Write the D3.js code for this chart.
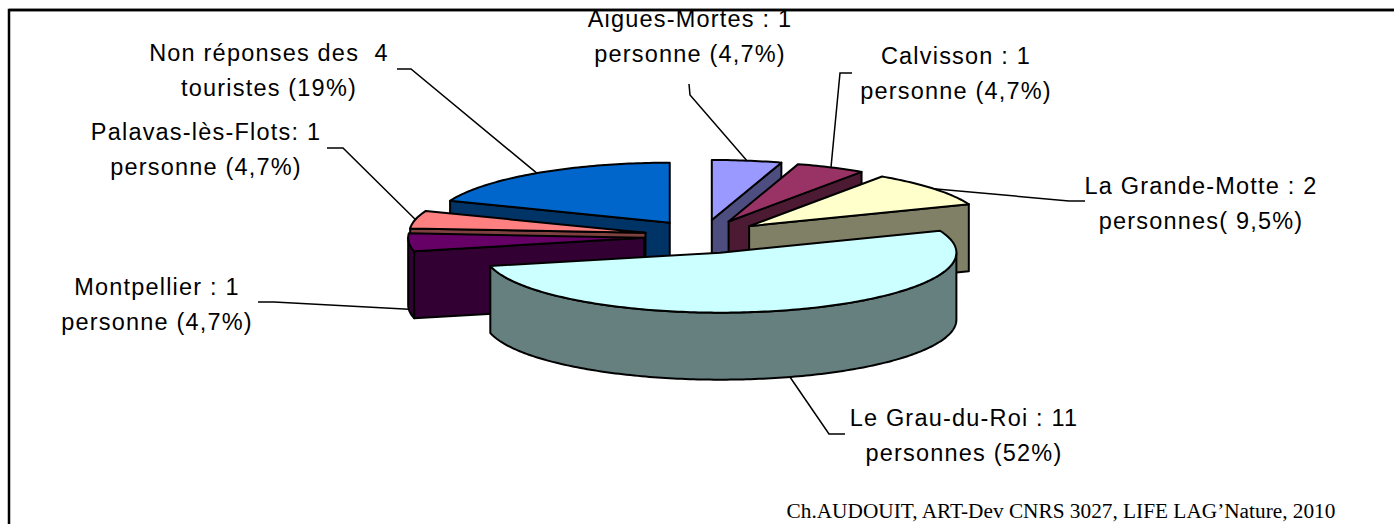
<!DOCTYPE html>
<html>
<head>
<meta charset="utf-8">
<script src="https://cdn.jsdelivr.net/npm/d3@7"></script>
<style>
  html, body { margin: 0; padding: 0; background: #fff; overflow: hidden; }
  svg { display: block; }
</style>
</head>
<body>
<svg id="chart" width="1394" height="524"></svg>
<script>
// Lieu de séjour des touristes interrogés (nombre de personnes)
const communes = ["Aigues-Mortes", "Calvisson", "La Grande-Motte", "Le Grau-du-Roi",
                  "Montpellier", "Palavas-lès-Flots", "Non réponses"];
const personnes = [1, 1, 2, 11, 1, 1, 4];
const labelLines = [
  ["Aigues-Mortes : 1", "personne (4,7%)"],
  ["Calvisson : 1", "personne (4,7%)"],
  ["La Grande-Motte : 2", "personnes( 9,5%)"],
  ["Le Grau-du-Roi : 11", "personnes (52%)"],
  ["Montpellier : 1", "personne (4,7%)"],
  ["Palavas-lès-Flots: 1", "personne (4,7%)"],
  ["Non réponses des  4", "touristes (19%)"]
];
const topColors  = ["#9999FF", "#993366", "#FFFFCC", "#CCFFFF", "#660066", "#FF8080", "#0066CC"];
const sideColors = ["#4D4D80", "#4D1A33", "#808066", "#668080", "#330033", "#804040", "#003366"];
const source = "Ch.AUDOUIT, ART-Dev CNRS 3027, LIFE LAG\u2019Nature, 2010";

// Label placement: centre x, first baseline, and leader elbow points
const labelLayout = [
  { x: 690,  y: 27,  leader: [[689, 84], [690, 95]] },
  { x: 956,  y: 64,  leader: [[852, 73], [840, 73]] },
  { x: 1201, y: 194, leader: [[1085, 201], [1069, 201]] },
  { x: 964,  y: 426, leader: [[845, 434], [829, 434]] },
  { x: 157,  y: 295, leader: [[258, 302], [274, 302]] },
  { x: 206,  y: 140, leader: [[327, 148], [343, 148]] },
  { x: 269,  y: 61,  leader: [[397, 69], [411, 69]] }
];

// 3-D pie geometry (screen units)
const geo = { cx: 703, cy: 236.6, rx: 236, ry: 60, h: 67, explodeX: 0.25, explodeY: 0.28 };

const svg = d3.select("#chart");

// frame
svg.append("path")
  .attr("d", "M9,524 V10 H1394")
  .attr("fill", "none").attr("stroke", "#000").attr("stroke-width", 2.5);

const pie = d3.pie().sort(null).value(d => d).startAngle(0).endAngle(2 * Math.PI);
const arcs = pie(personnes).map((a, i) => ({ ...a, i, mid: (a.startAngle + a.endAngle) / 2 }));

// projected point of a slice: angle theta, radius fraction r, vertical drop z
function pt(s, theta, r, z) {
  const X = geo.explodeX * Math.sin(s.mid) + r * Math.sin(theta);
  const D = geo.explodeY * Math.cos(s.mid) + r * Math.cos(theta);
  return [geo.cx + geo.rx * X, geo.cy - geo.ry * D + z];
}
function arcPts(s, a0, a1, z) {
  const n = Math.max(2, Math.ceil(Math.abs(a1 - a0) / (Math.PI / 180)));
  return d3.range(n + 1).map(k => pt(s, a0 + (a1 - a0) * k / n, 1, z));
}
const line = d3.line();
const closed = p => line(p) + "Z";

// back slices first
const order = arcs.slice().sort((a, b) => Math.cos(b.mid) - Math.cos(a.mid));
const g = svg.append("g")
  .attr("stroke", "#000").attr("stroke-width", 2).attr("stroke-linejoin", "round");

order.forEach(s => {
  const a = s.startAngle, b = s.endAngle, H = geo.h;
  const faces = [];
  // radial side at the start edge
  if (Math.cos(a - Math.PI / 2) < -0.01) {
    faces.push([pt(s, 0, 0, 0), pt(s, a, 1, 0), pt(s, a, 1, H), pt(s, 0, 0, H)]);
  }
  // radial side at the end edge
  if (Math.cos(b + Math.PI / 2) < -0.01) {
    faces.push([pt(s, 0, 0, 0), pt(s, b, 1, 0), pt(s, b, 1, H), pt(s, 0, 0, H)]);
  }
  // curved outer side, front half only
  const f0 = Math.max(a, Math.PI / 2), f1 = Math.min(b, 3 * Math.PI / 2);
  if (f1 > f0) {
    faces.push(arcPts(s, f0, f1, 0).concat(arcPts(s, f1, f0, H)));
  }
  faces.forEach(f => g.append("path").attr("d", closed(f)).attr("fill", sideColors[s.i]));
  // top face
  const top = [pt(s, 0, 0, 0)].concat(arcPts(s, a, b, 0));
  g.append("path").attr("d", closed(top)).attr("fill", topColors[s.i]);
});

// labels and leader lines
const labels = svg.append("g")
  .attr("font-family", "'Liberation Sans', Arial, sans-serif")
  .attr("font-size", 23.5).attr("letter-spacing", 1.2).attr("fill", "#000");

arcs.forEach(s => {
  const L = labelLayout[s.i];
  const anchor = pt(s, s.mid, 1, Math.cos(s.mid) < 0 ? geo.h : 0);
  svg.append("path")
    .attr("d", line(L.leader.concat([anchor])))
    .attr("fill", "none").attr("stroke", "#000").attr("stroke-width", 1.5);
  labelLines[s.i].forEach((t, k) => {
    labels.append("text")
      .attr("x", L.x).attr("y", L.y + k * 34.5)
      .attr("text-anchor", "middle")
      .style("white-space", "pre")
      .text(t);
  });
});

// frame line passes over the top label
svg.append("path")
  .attr("d", "M9,10 H1394")
  .attr("fill", "none").attr("stroke", "#000").attr("stroke-width", 2.5);

svg.append("text")
  .attr("x", 1061).attr("y", 518)
  .attr("text-anchor", "middle")
  .attr("font-family", "'Liberation Serif', 'Times New Roman', serif")
  .attr("font-size", 21.3)
  .text(source);
</script>
</body>
</html>
